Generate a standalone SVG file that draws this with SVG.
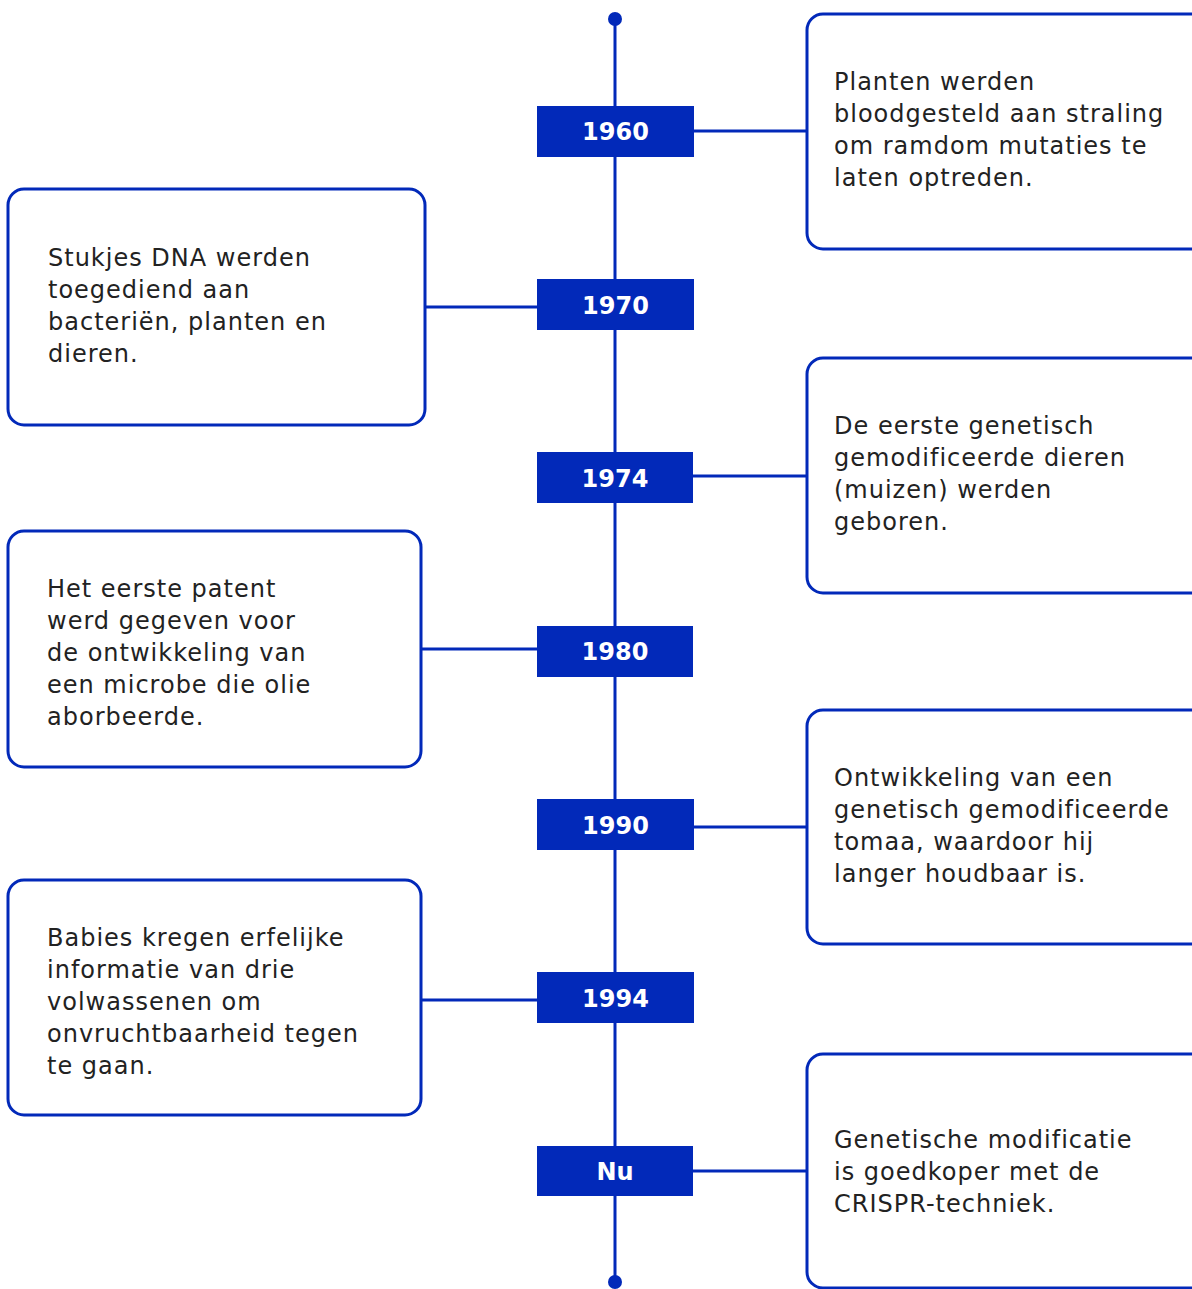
<svg xmlns="http://www.w3.org/2000/svg" width="1192" height="1289" viewBox="0 0 1192 1289">
<style>
.box{fill:#fff;stroke:#0229B9;stroke-width:3}
.yr{fill:#0229B9}
.yt{fill:#fff;font-family:"DejaVu Sans",sans-serif;font-weight:bold;font-size:24px;text-anchor:middle}
.t{fill:#222;font-family:"DejaVu Sans",sans-serif;font-size:24px;letter-spacing:1px}
.ln{stroke:#0229B9;stroke-width:3;fill:none}
</style>
<rect width="1192" height="1289" fill="#fff"/>
<g id="connectors">
<line class="ln" x1="615" y1="19" x2="615" y2="1282"/>
<circle cx="615" cy="19" r="7" fill="#0229B9"/>
<circle cx="615" cy="1282" r="7" fill="#0229B9"/>
<line class="ln" x1="694" y1="131" x2="807" y2="131"/>
<line class="ln" x1="425" y1="307" x2="537" y2="307"/>
<line class="ln" x1="693" y1="476" x2="807" y2="476"/>
<line class="ln" x1="421" y1="649" x2="537" y2="649"/>
<line class="ln" x1="694" y1="827" x2="807" y2="827"/>
<line class="ln" x1="421" y1="1000" x2="537" y2="1000"/>
<line class="ln" x1="693" y1="1171" x2="807" y2="1171"/>
</g>
<g id="y1960"><rect class="yr" x="537" y="106" width="157" height="51"/><text class="yt" x="615.5" y="140">1960</text></g>
<g id="y1970"><rect class="yr" x="537" y="279" width="157" height="51"/><text class="yt" x="615.5" y="314">1970</text></g>
<g id="y1974"><rect class="yr" x="537" y="452" width="156" height="51"/><text class="yt" x="615" y="487">1974</text></g>
<g id="y1980"><rect class="yr" x="537" y="626" width="156" height="51"/><text class="yt" x="615" y="660">1980</text></g>
<g id="y1990"><rect class="yr" x="537" y="799" width="157" height="51"/><text class="yt" x="615.5" y="834">1990</text></g>
<g id="y1994"><rect class="yr" x="537" y="972" width="157" height="51"/><text class="yt" x="615.5" y="1007">1994</text></g>
<g id="ynu"><rect class="yr" x="537" y="1146" width="156" height="50"/><text class="yt" x="615" y="1180">Nu</text></g>

<g id="n1960">
<rect class="box" x="807" y="14" width="410" height="235" rx="16"/>
<text class="t" x="834" y="90">Planten werden</text>
<text class="t" x="834" y="122">bloodgesteld aan straling</text>
<text class="t" x="834" y="154">om ramdom mutaties te</text>
<text class="t" x="834" y="186">laten optreden.</text>
</g>
<g id="n1970">
<rect class="box" x="8" y="189" width="417" height="236" rx="16"/>
<text class="t" x="48" y="266">Stukjes DNA werden</text>
<text class="t" x="48" y="298">toegediend aan</text>
<text class="t" x="48" y="330">bacteriën, planten en</text>
<text class="t" x="48" y="362">dieren.</text>
</g>
<g id="n1974">
<rect class="box" x="807" y="358" width="410" height="235" rx="16"/>
<text class="t" x="834" y="434">De eerste genetisch</text>
<text class="t" x="834" y="466">gemodificeerde dieren</text>
<text class="t" x="834" y="498">(muizen) werden</text>
<text class="t" x="834" y="530">geboren.</text>
</g>
<g id="n1980">
<rect class="box" x="8" y="531" width="413" height="236" rx="16"/>
<text class="t" x="47" y="597">Het eerste patent</text>
<text class="t" x="47" y="629">werd gegeven voor</text>
<text class="t" x="47" y="661">de ontwikkeling van</text>
<text class="t" x="47" y="693">een microbe die olie</text>
<text class="t" x="47" y="725">aborbeerde.</text>
</g>
<g id="n1990">
<rect class="box" x="807" y="710" width="410" height="234" rx="16"/>
<text class="t" x="834" y="786">Ontwikkeling van een</text>
<text class="t" x="834" y="818">genetisch gemodificeerde</text>
<text class="t" x="834" y="850">tomaa, waardoor hij</text>
<text class="t" x="834" y="882">langer houdbaar is.</text>
</g>
<g id="n1994">
<rect class="box" x="8" y="880" width="413" height="235" rx="16"/>
<text class="t" x="47" y="946">Babies kregen erfelijke</text>
<text class="t" x="47" y="978">informatie van drie</text>
<text class="t" x="47" y="1010">volwassenen om</text>
<text class="t" x="47" y="1042">onvruchtbaarheid tegen</text>
<text class="t" x="47" y="1074">te gaan.</text>
</g>
<g id="nnu">
<rect class="box" x="807" y="1054" width="410" height="234" rx="16"/>
<text class="t" x="834" y="1148">Genetische modificatie</text>
<text class="t" x="834" y="1180">is goedkoper met de</text>
<text class="t" x="834" y="1212">CRISPR-techniek.</text>
</g>
</svg>
